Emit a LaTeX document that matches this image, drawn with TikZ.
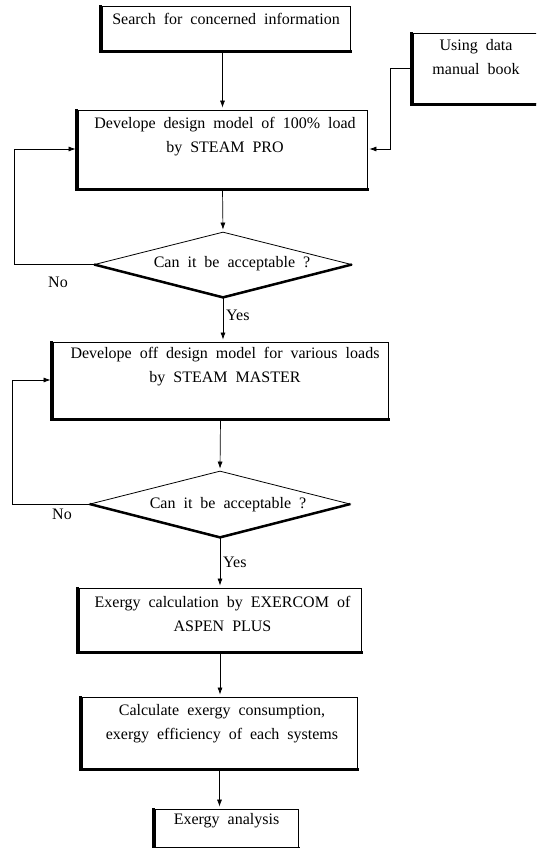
\documentclass[tikz,border=0pt]{standalone}
\usepackage{fontspec}
\setmainfont{Liberation Serif}
\usetikzlibrary{shapes.geometric,arrows.meta}
\newcommand\mywsp{\spaceskip=8pt plus 1pt minus 1pt\relax}
\newcommand\myfont{\fontsize{16}{24}\selectfont}
\begin{document}
\begin{tikzpicture}[x=1pt,y=-1pt,
  txt/.style={font={\myfont\mywsp}, align=center, inner sep=0pt},
  lbl/.style={font=\myfont, inner sep=0pt},
  box/.style={draw, line width=0.8pt, rectangle, inner sep=0pt, fill=white},
  dia/.style={draw, line width=0.8pt, diamond, inner sep=0pt, fill=white},
  thickedge/.style={line width=3.5pt, line cap=rect},
  arr/.style={line width=0.7pt, -{Latex[length=7pt,width=5pt]}, shorten >=2pt}]
\useasboundingbox (0,0) rectangle (536,848);
\clip (0,0) rectangle (536,848);
\fill[white] (0,0) rectangle (536,848);

% boxes
\node[box, minimum width=248pt, minimum height=44pt] (b1) at (226,28) {};
\node[txt] (t1) at (226,19) {Search for concerned information};

\node[box, minimum width=126pt, minimum height=70pt] (use) at (476,68) {};
\node[txt] (tu) at (476,57.5) {Using data\\manual book};

\node[box, minimum width=289pt, minimum height=78pt] (b2) at (222.5,149) {};
\node[txt] (t2) at (225,137) {Develope design model of 100\% load\\by STEAM PRO};

\node[dia, minimum width=257pt, minimum height=65pt] (d1) at (223,264.5) {};
\node[txt] (td1) at (232,264) {Can it be acceptable ?};

\node[box, minimum width=335pt, minimum height=76pt] (b3) at (220.5,380) {};
\node[txt] (t3) at (225,367) {Develope off design model for various loads\\by STEAM MASTER};

\node[dia, minimum width=260pt, minimum height=66pt] (d2) at (220,504) {};
\node[txt] (td2) at (228,505) {Can it be acceptable ?};

\node[box, minimum width=282pt, minimum height=63pt] (b4) at (220,619.5) {};
\node[txt] (t4) at (222.5,614) {Exergy calculation by EXERCOM of\\ASPEN PLUS};

\node[box, minimum width=275pt, minimum height=71pt] (b5) at (219.5,732.5) {};
\node[txt] (t5) at (222,724) {Calculate exergy consumption,\\exergy efficiency of each systems};

\node[box, minimum width=143pt, minimum height=38pt] (b6) at (226.5,828) {};
\node[txt] (t6) at (226.5,821) {Exergy analysis};

% thick shadow edges
\foreach \b in {b1,use,b2,b3,b4,b5,b6}{
  \draw[thickedge] ([shift={(-1.2,1)}]\b.north west) -- ([shift={(-1.2,1)}]\b.south west) -- ([shift={(0,1)}]\b.south east);
}
\draw[line width=2.5pt] (d1.west) -- (d1.south) -- (d1.east);
\draw[line width=2.5pt] (d2.west) -- (d2.south) -- (d2.east);

% connectors
\draw[arr] (b2.north |- b1.south) -- (b2.north);
\draw[arr] (use.west) -- ++(-22,0) |- (b2.east);
\draw[arr] (b2.south) -- (d1.north);
\draw[arr] (d1.west) -- ++(-80,0) |- (b2.west);
\node[lbl] (no1) at (58,282) {No};
\draw[arr] (d1.south) -- (d1.south |- b3.north);
\node[lbl, anchor=west] (yes1) at (226,315) {Yes};
\draw[arr] (b3.south) -- (d2.north);
\draw[arr] (d2.west) -- ++(-77,0) |- (b3.west);
\node[lbl] (no2) at (62,514) {No};
\draw[arr] (d2.south) -- (d2.south |- b4.north);
\node[lbl, anchor=west] (yes2) at (223,562) {Yes};
\draw[arr] (b4.south) -- (b4.south |- b5.north);
\draw[arr] (b5.south) -- (b5.south |- b6.north);
\end{tikzpicture}
\end{document}
